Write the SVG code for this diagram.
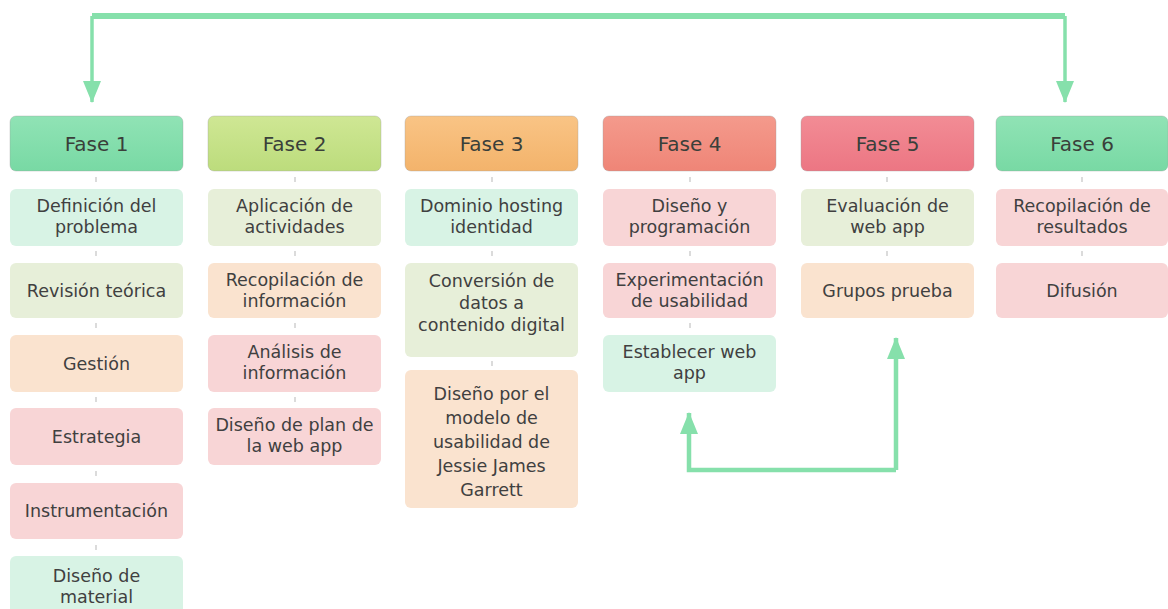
<svg xmlns="http://www.w3.org/2000/svg" width="1168" height="609" viewBox="0 0 1168 609">
<defs>
<marker id="ah" viewBox="0 0 22 18" refX="21" refY="9" markerWidth="22" markerHeight="18" markerUnits="userSpaceOnUse" orient="auto">
<path d="M0,0 L22,9 L0,18 z" fill="#86e0ab"/>
</marker>
<marker id="ah2" viewBox="0 0 22 18" refX="21" refY="9" markerWidth="22" markerHeight="18" markerUnits="userSpaceOnUse" orient="auto">
<path d="M0,0 L22,9 L0,18 z" fill="#86e0ab"/>
</marker>
<linearGradient id="g1" x1="0" y1="0" x2="0" y2="1"><stop offset="0" stop-color="#90e3b5"/><stop offset="1" stop-color="#78d9a4"/></linearGradient>
<linearGradient id="g2" x1="0" y1="0" x2="0" y2="1"><stop offset="0" stop-color="#cfe794"/><stop offset="1" stop-color="#bcdc7c"/></linearGradient>
<linearGradient id="g3" x1="0" y1="0" x2="0" y2="1"><stop offset="0" stop-color="#f9c485"/><stop offset="1" stop-color="#f3b36b"/></linearGradient>
<linearGradient id="g4" x1="0" y1="0" x2="0" y2="1"><stop offset="0" stop-color="#f49a8c"/><stop offset="1" stop-color="#ef8577"/></linearGradient>
<linearGradient id="g5" x1="0" y1="0" x2="0" y2="1"><stop offset="0" stop-color="#f28c95"/><stop offset="1" stop-color="#ec7683"/></linearGradient>
</defs>
<style>
.hd{stroke:#9a9a9a;stroke-opacity:0.35;stroke-width:1}
.bx{stroke:none}
.mint{fill:#d8f3e5}
.gb{fill:#e7efd9}
.pe{fill:#fae3cf}
.pk{fill:#f8d5d6}
.ht{font-family:"DejaVu Sans","Liberation Sans",sans-serif;font-size:20px;fill:#3a3f3a;text-anchor:middle}
.t{font-family:"DejaVu Sans","Liberation Sans",sans-serif;font-size:17.5px;fill:#404040;text-anchor:middle}
.dot{stroke:#cfcfcf;stroke-width:1.5}
.big{fill:none;stroke:#86e0ab;stroke-linejoin:miter}
</style>
<rect width="1168" height="609" fill="#ffffff"/>
<g id="connectors">
<path class="big" d="M92,16 L1065,16" stroke-width="6"/>
<path class="big" d="M92,16 L92,102" stroke-width="3.5" marker-end="url(#ah)"/>
<path class="big" d="M1065,16 L1065,102" stroke-width="3.5" marker-end="url(#ah)"/>
<path class="big" d="M896,470 L689,470 L689,413" stroke-width="4.5" marker-end="url(#ah2)"/>
<path class="big" d="M896,470 L896,338" stroke-width="4.5" marker-end="url(#ah2)"/>
<g id="dots">
<path class="dot" d="M96,177v5M96,251v5M96,323v5M96,397v5M96,471v5M96,545v5"/>
<path class="dot" d="M295,177v5M295,251v5M295,323v5M295,397v5"/>
<path class="dot" d="M492,177v5M492,251v5M492,361v5"/>
<path class="dot" d="M690,177v5M690,251v5M690,323v5"/>
<path class="dot" d="M887,177v5M887,251v5"/>
<path class="dot" d="M1082,177v5M1082,251v5"/>
</g>
</g>
<g id="fase1">
<rect class="hd" x="10" y="116" width="173" height="55" rx="6" fill="url(#g1)"/>
<text class="ht" x="96.5" y="151">Fase 1</text>
</g>
<g id="f1a"><rect class="bx mint" x="10" y="189" width="173" height="57" rx="6"/><text class="t" x="96.5" y="212">Definición del</text><text class="t" x="96.5" y="233">problema</text></g>
<g id="f1b"><rect class="bx gb" x="10" y="263" width="173" height="55" rx="6"/><text class="t" x="96.5" y="297">Revisión teórica</text></g>
<g id="f1c"><rect class="bx pe" x="10" y="335" width="173" height="57" rx="6"/><text class="t" x="96.5" y="370">Gestión</text></g>
<g id="f1d"><rect class="bx pk" x="10" y="408" width="173" height="57" rx="6"/><text class="t" x="96.5" y="443">Estrategia</text></g>
<g id="f1e"><rect class="bx pk" x="10" y="483" width="173" height="56" rx="6"/><text class="t" x="96.5" y="517">Instrumentación</text></g>
<g id="f1f"><rect class="bx mint" x="10" y="556" width="173" height="60" rx="6"/><text class="t" x="96.5" y="582">Diseño de</text><text class="t" x="96.5" y="603">material</text></g>

<g id="fase2">
<rect class="hd" x="208" y="116" width="173" height="55" rx="6" fill="url(#g2)"/>
<text class="ht" x="294.5" y="151">Fase 2</text>
</g>
<g id="f2a"><rect class="bx gb" x="208" y="189" width="173" height="57" rx="6"/><text class="t" x="294.5" y="212">Aplicación de</text><text class="t" x="294.5" y="233">actividades</text></g>
<g id="f2b"><rect class="bx pe" x="208" y="263" width="173" height="55" rx="6"/><text class="t" x="294.5" y="286">Recopilación de</text><text class="t" x="294.5" y="307">información</text></g>
<g id="f2c"><rect class="bx pk" x="208" y="335" width="173" height="57" rx="6"/><text class="t" x="294.5" y="358">Análisis de</text><text class="t" x="294.5" y="379">información</text></g>
<g id="f2d"><rect class="bx pk" x="208" y="408" width="173" height="57" rx="6"/><text class="t" x="294.5" y="431">Diseño de plan de</text><text class="t" x="294.5" y="452">la web app</text></g>

<g id="fase3">
<rect class="hd" x="405" y="116" width="173" height="55" rx="6" fill="url(#g3)"/>
<text class="ht" x="491.5" y="151">Fase 3</text>
</g>
<g id="f3a"><rect class="bx mint" x="405" y="189" width="173" height="57" rx="6"/><text class="t" x="491.5" y="212">Dominio hosting</text><text class="t" x="491.5" y="233">identidad</text></g>
<g id="f3b"><rect class="bx gb" x="405" y="263" width="173" height="94" rx="6"/><text class="t" x="491.5" y="287">Conversión de</text><text class="t" x="491.5" y="309">datos a</text><text class="t" x="491.5" y="331">contenido digital</text></g>
<g id="f3c"><rect class="bx pe" x="405" y="370" width="173" height="138" rx="6"/><text class="t" x="491.5" y="400">Diseño por el</text><text class="t" x="491.5" y="424">modelo de</text><text class="t" x="491.5" y="448">usabilidad de</text><text class="t" x="491.5" y="472">Jessie James</text><text class="t" x="491.5" y="496">Garrett</text></g>

<g id="fase4">
<rect class="hd" x="603" y="116" width="173" height="55" rx="6" fill="url(#g4)"/>
<text class="ht" x="689.5" y="151">Fase 4</text>
</g>
<g id="f4a"><rect class="bx pk" x="603" y="189" width="173" height="57" rx="6"/><text class="t" x="689.5" y="212">Diseño y</text><text class="t" x="689.5" y="233">programación</text></g>
<g id="f4b"><rect class="bx pk" x="603" y="263" width="173" height="55" rx="6"/><text class="t" x="689.5" y="286">Experimentación</text><text class="t" x="689.5" y="307">de usabilidad</text></g>
<g id="f4c"><rect class="bx mint" x="603" y="335" width="173" height="57" rx="6"/><text class="t" x="689.5" y="358">Establecer web</text><text class="t" x="689.5" y="379">app</text></g>

<g id="fase5">
<rect class="hd" x="801" y="116" width="173" height="55" rx="6" fill="url(#g5)"/>
<text class="ht" x="887.5" y="151">Fase 5</text>
</g>
<g id="f5a"><rect class="bx gb" x="801" y="189" width="173" height="57" rx="6"/><text class="t" x="887.5" y="212">Evaluación de</text><text class="t" x="887.5" y="233">web app</text></g>
<g id="f5b"><rect class="bx pe" x="801" y="263" width="173" height="55" rx="6"/><text class="t" x="887.5" y="297">Grupos prueba</text></g>

<g id="fase6">
<rect class="hd" x="996" y="116" width="172" height="55" rx="6" fill="url(#g1)"/>
<text class="ht" x="1082" y="151">Fase 6</text>
</g>
<g id="f6a"><rect class="bx pk" x="996" y="189" width="172" height="57" rx="6"/><text class="t" x="1082" y="212">Recopilación de</text><text class="t" x="1082" y="233">resultados</text></g>
<g id="f6b"><rect class="bx pk" x="996" y="263" width="172" height="55" rx="6"/><text class="t" x="1082" y="297">Difusión</text></g>
</svg>
